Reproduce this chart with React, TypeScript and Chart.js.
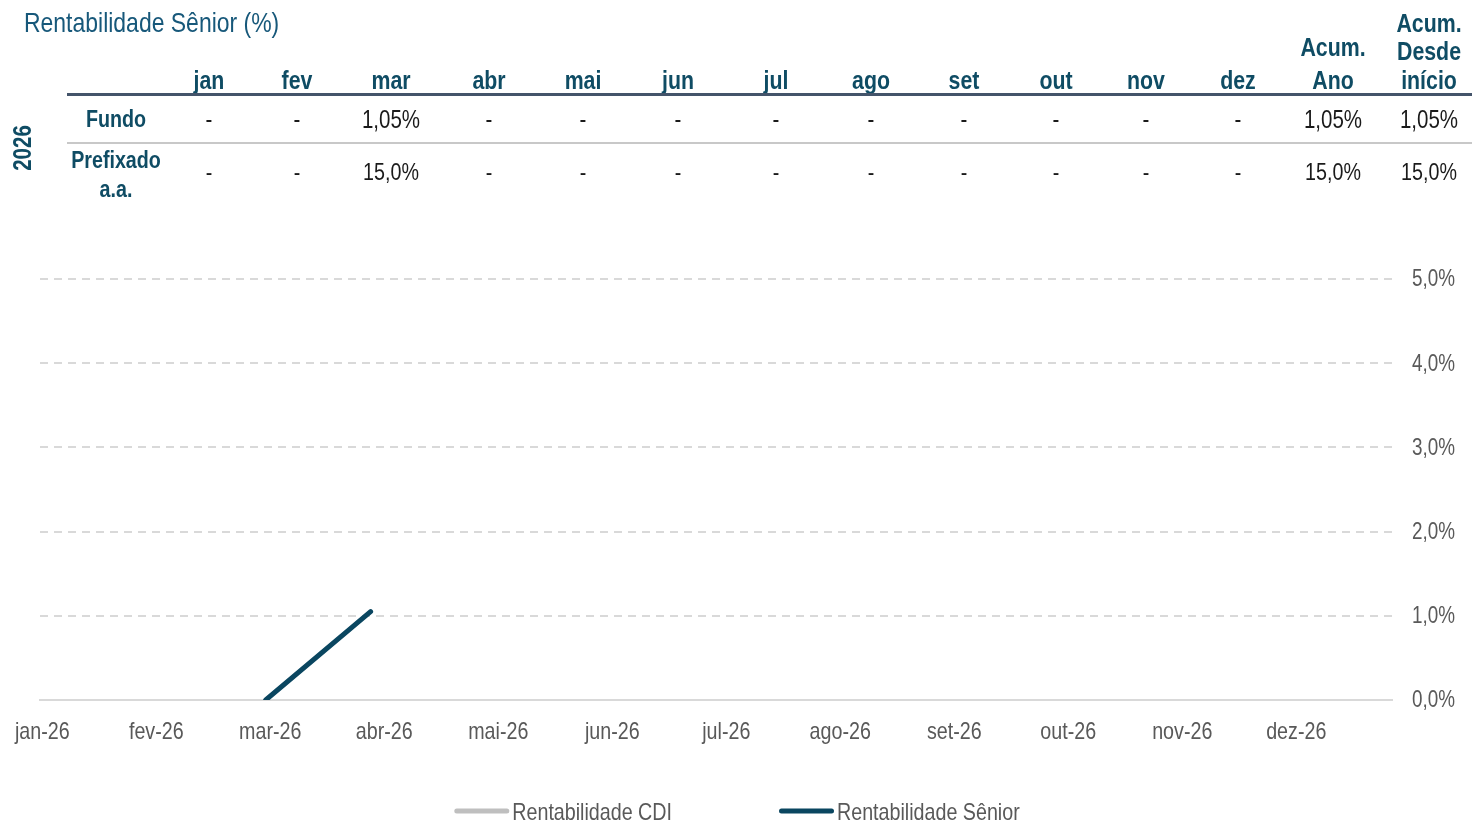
import React, { useEffect, useRef } from "react";
import { Chart, registerables } from "chart.js";

Chart.register(...registerables);

// ---------- data ----------
const chartTitle = "Rentabilidade Sênior (%)";
const yearLabel = "2026";
const tableHeaders = ["jan", "fev", "mar", "abr", "mai", "jun", "jul", "ago", "set", "out", "nov", "dez", "Acum.\nAno", "Acum.\nDesde\ninício"];
const rowLabels = ["Fundo", "Prefixado\na.a."];
const fundoRow = ["-", "-", "1,05%", "-", "-", "-", "-", "-", "-", "-", "-", "-", "1,05%", "1,05%"];
const prefixadoRow = ["-", "-", "15,0%", "-", "-", "-", "-", "-", "-", "-", "-", "-", "15,0%", "15,0%"];

const xTickLabels = ["jan-26", "fev-26", "mar-26", "abr-26", "mai-26", "jun-26", "jul-26", "ago-26", "set-26", "out-26", "nov-26", "dez-26"];
const seriesLabels = ["Rentabilidade CDI", "Rentabilidade Sênior"];
// x in months from jan-26 (fractional = day within month)
const seniorX = [1.96, 2.88];
const seniorY = [0, 1.05];
const cdiX: number[] = [];
const cdiY: number[] = [];
const yTicks = [0, 1, 2, 3, 4, 5];

// ---------- style / layout ----------
const FONT = '"Liberation Sans", Arial, sans-serif';
const NARROW = 0.82;
const TEAL = "#0f4c64";
const TITLE_TEAL = "#17587a";
const LINE_TEAL = "#0a4660";
const CDI_GRAY = "#bfbfbf";
const GRID = "#d9d9d9";
const LABEL_GRAY = "#595959";
const colCenters = [209, 297, 391, 489, 583, 678, 776, 871, 964, 1056, 1146, 1238, 1333, 1429];

const fmtPct = (v: number) => v.toFixed(1).replace(".", ",") + "%";

function narrowText(ctx: any, text: string, x: number, y: number, align: string) {
  ctx.save();
  ctx.translate(x, y);
  ctx.scale(NARROW, 1);
  ctx.textAlign = align;
  ctx.textBaseline = "middle";
  ctx.fillText(text, 0, 0);
  ctx.restore();
}

const labelsPlugin = {
  id: "narrowLabels",
  afterDraw(chart: any) {
    const ctx = chart.ctx;
    const xs = chart.scales.x;
    const ys = chart.scales.y;
    ctx.save();
    ctx.fillStyle = LABEL_GRAY;
    ctx.font = `24px ${FONT}`;
    xs.ticks.forEach((t: any) => {
      const lbl = xTickLabels[t.value];
      if (lbl) narrowText(ctx, lbl, xs.getPixelForValue(t.value), xs.top + 32, "center");
    });
    ctx.font = `23px ${FONT}`;
    ys.ticks.forEach((t: any) => {
      narrowText(ctx, fmtPct(t.value), ys.left + 20, ys.getPixelForValue(t.value) + 1, "left");
    });

    // legend
    ctx.font = `24px ${FONT}`;
    const ds = chart.data.datasets;
    const lineW = 55;
    const gapText = 3;
    const gapItem = 107;
    const widths = ds.map((d: any) => lineW + gapText + ctx.measureText(d.label).width * NARROW);
    const total = widths.reduce((a: number, b: number) => a + b, 0) + gapItem * (ds.length - 1);
    let x = (chart.width - total) / 2 + 1;
    const y = 811;
    ds.forEach((d: any, i: number) => {
      ctx.beginPath();
      ctx.lineCap = "round";
      ctx.lineWidth = 5;
      ctx.strokeStyle = d.borderColor;
      ctx.moveTo(x + 2.5, y);
      ctx.lineTo(x + lineW - 2.5, y);
      ctx.stroke();
      ctx.fillStyle = LABEL_GRAY;
      narrowText(ctx, d.label, x + lineW + gapText, y + 2, "left");
      x += widths[i] + gapItem;
    });
    ctx.restore();
  },
};

function ChartCanvas() {
  const ref = useRef<HTMLCanvasElement | null>(null);
  useEffect(() => {
    if (!ref.current) return;
    const chart = new Chart(ref.current, {
      type: "line",
      data: {
        datasets: [
          {
            label: seriesLabels[0],
            data: cdiX.map((x, i) => ({ x, y: cdiY[i] })),
            borderColor: CDI_GRAY,
            backgroundColor: CDI_GRAY,
            borderWidth: 5,
            pointRadius: 0,
            borderCapStyle: "round",
          },
          {
            label: seriesLabels[1],
            data: seniorX.map((x, i) => ({ x, y: seniorY[i] })),
            borderColor: LINE_TEAL,
            backgroundColor: LINE_TEAL,
            borderWidth: 5,
            pointRadius: 0,
            borderCapStyle: "round",
            tension: 0,
          },
        ],
      },
      options: {
        animation: false,
        responsive: false,
        maintainAspectRatio: false,
        layout: { padding: { top: 279, left: 40, right: 0, bottom: 81 } },
        plugins: { legend: { display: false }, tooltip: { enabled: false } },
        scales: {
          x: {
            type: "linear",
            min: -0.02,
            max: 11.84,
            grid: { display: false, drawTicks: false },
            border: { display: true, color: GRID, width: 2 },
            afterFit: (s: any) => { s.height = 40; s.paddingLeft = 0; s.paddingRight = 0; },
            afterBuildTicks: (s: any) => {
              s.ticks = xTickLabels.map((_, i) => ({ value: i }));
            },
            ticks: { display: false },
          },
          y: {
            position: "right",
            min: 0,
            max: 5,
            afterFit: (s: any) => { s.width = 80; s.paddingTop = 0; s.paddingBottom = 0; },
            afterBuildTicks: (s: any) => {
              s.ticks = yTicks.map((v) => ({ value: v }));
            },
            grid: {
              drawTicks: false,
              lineWidth: 2,
              color: (c: any) => (c.tick && c.tick.value === 0 ? "rgba(0,0,0,0)" : GRID),
            },
            border: { display: false, dash: [8, 6] },
            ticks: { display: false },
          },
        },
      },
      plugins: [labelsPlugin],
    } as any);
    return () => chart.destroy();
  }, []);
  return <canvas ref={ref} width={1472} height={821} style={{ position: "absolute", left: 0, top: 0, width: 1472, height: 821 }} />;
}

export default function App() {
  useEffect(() => {
    document.body.style.margin = "0";
  }, []);
  const cell = (text: string, cx: number, style: React.CSSProperties, key: string) => (
    <div
      key={key}
      style={{
        position: "absolute",
        left: cx - 80,
        width: 160,
        textAlign: "center",
        whiteSpace: "pre-line",
        transform: `scaleX(${NARROW})`,
        transformOrigin: "center",
        ...style,
      }}
    >
      {text}
    </div>
  );
  return (
    <div style={{ position: "relative", width: 1472, height: 821, overflow: "hidden", background: "#fff", fontFamily: FONT }}>
      <ChartCanvas />
      <div
        style={{
          position: "absolute",
          left: 24,
          top: 6,
          fontSize: 28,
          lineHeight: "34px",
          color: TITLE_TEAL,
          whiteSpace: "nowrap",
          transform: `scaleX(${NARROW})`,
          transformOrigin: "left",
        }}
      >
        {chartTitle}
      </div>
      {tableHeaders.map((h, i) => {
        const twoLine = h.split("\n").length === 2;
        return cell(
          h,
          colCenters[i],
          {
            bottom: twoLine ? 821 - 97 : 821 - 94,
            fontSize: 26,
            lineHeight: twoLine ? "33px" : "28.5px",
            fontWeight: "bold",
            color: TEAL,
          },
          "h" + i
        );
      })}
      <div style={{ position: "absolute", left: 67, top: 93, width: 1405, height: 3, background: "#44546a" }} />
      <div style={{ position: "absolute", left: 67, top: 142, width: 1405, height: 1.5, background: "#c8c8c8" }} />
      {cell(rowLabels[0], 116, { top: 105, fontSize: 24, lineHeight: "28px", fontWeight: "bold", color: TEAL }, "r0")}
      {cell(rowLabels[1], 116, { top: 145, fontSize: 24, lineHeight: "29px", fontWeight: "bold", color: TEAL }, "r1")}
      {fundoRow.map((v, i) => cell(v, colCenters[i], { top: 105, fontSize: 25, lineHeight: "28px", color: "#1a1a1a" }, "f" + i))}
      {prefixadoRow.map((v, i) => cell(v, colCenters[i], { top: 158, fontSize: 24, lineHeight: "28px", color: "#1a1a1a" }, "p" + i))}
      <div
        style={{
          position: "absolute",
          left: 22 - 40,
          top: 148 - 14,
          width: 80,
          height: 28,
          lineHeight: "28px",
          textAlign: "center",
          transform: `rotate(-90deg) scaleX(${NARROW})`,
          fontSize: 25,
          fontWeight: "bold",
          color: TEAL,
        }}
      >
        {yearLabel}
      </div>
    </div>
  );
}
